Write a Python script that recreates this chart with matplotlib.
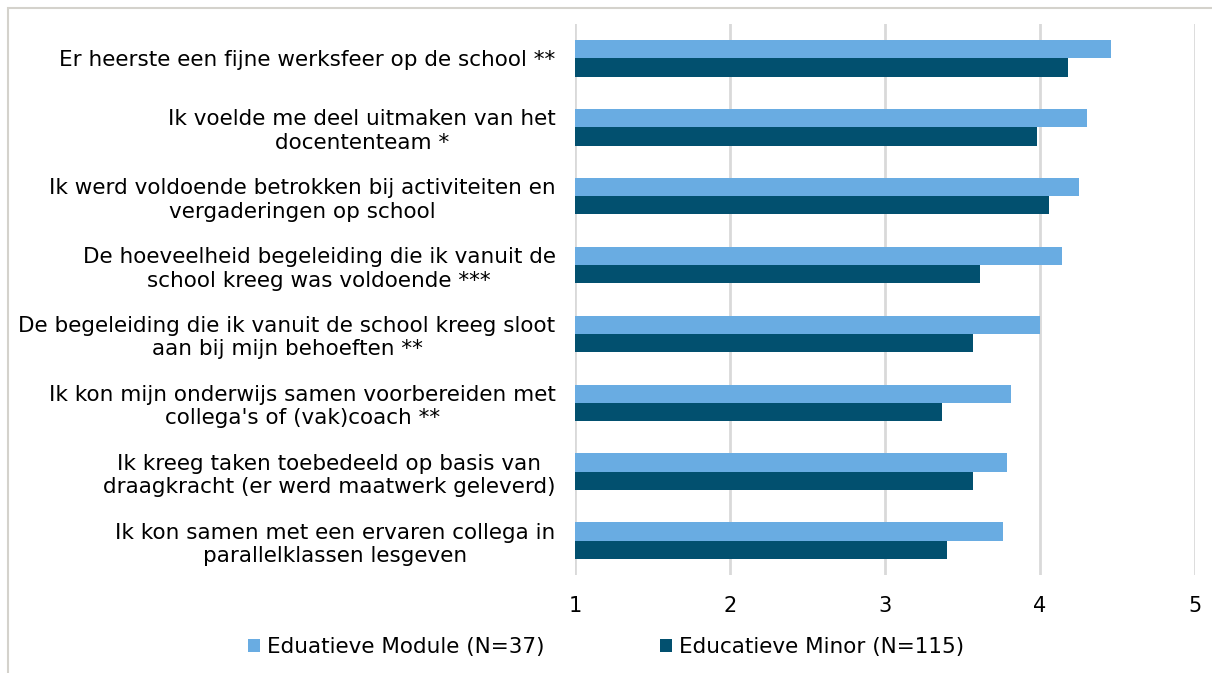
import matplotlib
matplotlib.use("Agg")
import matplotlib.pyplot as plt
import numpy as np
from matplotlib.patches import Rectangle, Patch

plt.rcParams['font.family'] = ['DejaVu Sans']

categories = [
    "Er heerste een fijne werksfeer op de school **",
    "Ik voelde me deel uitmaken van het\ndocententeam *",
    "Ik werd voldoende betrokken bij activiteiten en\nvergaderingen op school",
    "De hoeveelheid begeleiding die ik vanuit de\nschool kreeg was voldoende ***",
    "De begeleiding die ik vanuit de school kreeg sloot\naan bij mijn behoeften **",
    "Ik kon mijn onderwijs samen voorbereiden met\ncollega's of (vak)coach **",
    "Ik kreeg taken toebedeeld op basis van\ndraagkracht (er werd maatwerk geleverd)",
    "Ik kon samen met een ervaren collega in\nparallelklassen lesgeven",
]
module_values = [4.46, 4.30, 4.25, 4.14, 4.00, 3.81, 3.79, 3.76]
minor_values = [4.18, 3.98, 4.06, 3.61, 3.57, 3.37, 3.57, 3.40]
series_labels = ["Eduatieve Module (N=37)", "Educatieve Minor (N=115)"]
x_ticks = [1, 2, 3, 4, 5]

light = "#69ace2"
dark = "#02506f"

fig = plt.figure(figsize=(12.12, 6.73), dpi=100)
ax = fig.add_axes([575 / 1212, 1 - 575 / 673, 620 / 1212, 551 / 673])

y = np.arange(len(categories))
h = 0.265
ax.barh(y - h / 2, np.array(module_values) - 1, left=1, height=h, color=light, zorder=3)
ax.barh(y + h / 2, np.array(minor_values) - 1, left=1, height=h, color=dark, zorder=3)

ax.set_xlim(1, 5)
ax.set_ylim(len(categories) - 0.5, -0.5)
ax.set_xticks(x_ticks)
ax.set_xticklabels([str(t) for t in x_ticks], fontsize=15)
ax.set_yticks(y)
ax.set_yticklabels(categories, multialignment="center", fontsize=15.5, linespacing=1.22)
ax.tick_params(axis="both", length=0, colors="#000000")
ax.tick_params(axis="x", pad=15)
ax.tick_params(axis="y", pad=14)

ax.grid(axis="x", color="#d9d9d9", linewidth=2, zorder=0)
for s in ax.spines.values():
    s.set_visible(False)

# outer frame (top and left edges visible)
fig.patches.append(Rectangle((8 / 1212, -0.1), 1.2, 1.1 - 8 / 673,
                             transform=fig.transFigure, fill=False,
                             edgecolor="#d4d2cc", linewidth=1.5))

handles = [Patch(facecolor=light, edgecolor="none"),
           Patch(facecolor=dark, edgecolor="none")]
fig.legend(handles, series_labels, loc="center", bbox_to_anchor=(606 / 1212, 1 - 647 / 673),
           ncol=2, frameon=False, fontsize=15.5, handlelength=0.55, handleheight=0.55,
           handletextpad=0.3, columnspacing=5.4)

fig.savefig("out.png", dpi=100)
